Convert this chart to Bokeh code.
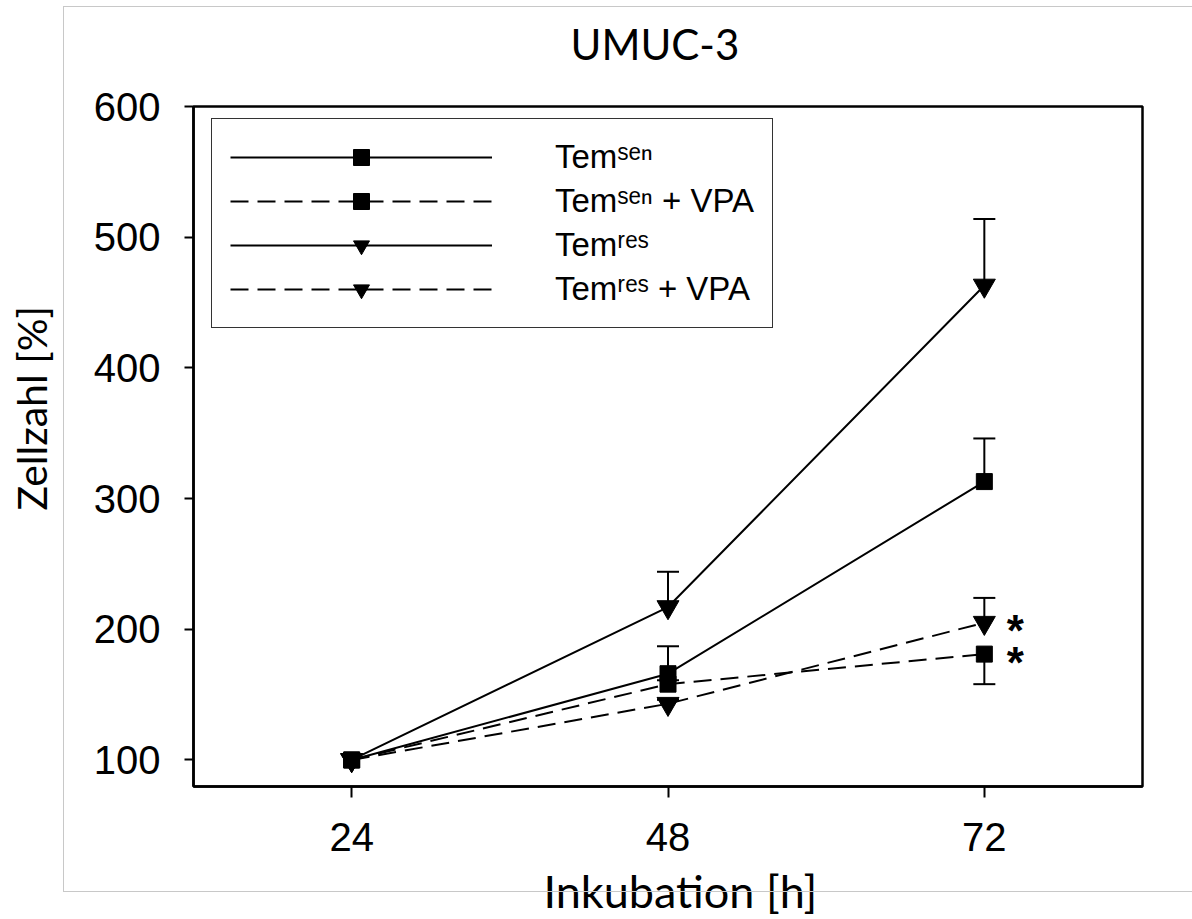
from bokeh.plotting import figure
from bokeh.models import (Range1d, FixedTicker, Whisker, TeeHead, ColumnDataSource,
                          Legend, LegendItem, Title, InlineStyleSheet)
from bokeh.embed import file_html
from bokeh.resources import INLINE
from bokeh.core.properties import value

# ---------------- data ----------------
hours = [24, 48, 72]
x_ticks = [24, 48, 72]
y_ticks = [100, 200, 300, 400, 500, 600]

tem_sen = [100, 166, 313]
tem_sen_err_up = [0, 21, 33]
tem_sen_err_down = [0, 0, 0]

tem_sen_vpa = [100, 158, 181]
tem_sen_vpa_err_up = [0, 3, 0]
tem_sen_vpa_err_down = [0, 0, 23]

tem_res = [100, 217, 463]
tem_res_err_up = [0, 27, 51]
tem_res_err_down = [0, 0, 0]

tem_res_vpa = [100, 143, 205]
tem_res_vpa_err_up = [0, 3, 19]
tem_res_vpa_err_down = [0, 0, 0]

labels = ["Tem\u02e2\u1d49\u207f", "Tem\u02e2\u1d49\u207f + VPA",
          "Tem\u02b3\u1d49\u02e2", "Tem\u02b3\u1d49\u02e2 + VPA"]
sig_hours = [72, 72]
sig_values = [tem_res_vpa[2], tem_sen_vpa[2]]
sig_text = ["*", "*"]

title_text = "UMUC-3"
x_title = "Inkubation [h]"
y_title = "Zellzahl [%]"

# ---------------- figure ----------------
FL, FT, FR, FB = 193, 106, 1142, 786   # frame edges in canvas px
W, H = 1192, 919

border_css = InlineStyleSheet(css="""
:host { position: relative; }
:host::after {
  content: ''; position: absolute; left: 63px; top: 6px;
  width: 1129px; height: 886px; box-sizing: border-box;
  border: 1px solid #c8c8c8; border-right: none; pointer-events: none;
}
""")

p = figure(width=W, height=H, output_backend="svg", toolbar_location=None,
           x_range=Range1d(12, 84), y_range=Range1d(79.7, 600),
           min_border_left=FL, min_border_right=W - FR,
           min_border_top=FT, min_border_bottom=H - FB,
           stylesheets=[border_css])
p.grid.visible = False
p.outline_line_color = "black"
p.outline_line_width = 2.5
p.background_fill_color = "white"
p.border_fill_color = "white"

for ax in (p.xaxis[0], p.yaxis[0]):
    ax.axis_line_width = 2.5
    ax.axis_line_color = "black"
    ax.major_tick_line_width = 2
    ax.major_tick_line_color = "black"
    ax.major_tick_in = 0
    ax.minor_tick_line_color = None
    ax.major_label_text_font = "Liberation Sans"
    ax.major_label_text_font_size = "40px"
    ax.major_label_text_color = "black"

p.xaxis[0].ticker = FixedTicker(ticks=x_ticks)
p.yaxis[0].ticker = FixedTicker(ticks=y_ticks)
p.xaxis[0].major_tick_out = 11
p.yaxis[0].major_tick_out = 9
p.xaxis[0].major_label_standoff = 25
p.yaxis[0].major_label_standoff = 24

series = [
    (tem_sen, tem_sen_err_up, tem_sen_err_down, "solid", "square", 16),
    (tem_sen_vpa, tem_sen_vpa_err_up, tem_sen_vpa_err_down, "18 9", "square", 16),
    (tem_res, tem_res_err_up, tem_res_err_down, "solid", "inverted_triangle", 22),
    (tem_res_vpa, tem_res_vpa_err_up, tem_res_vpa_err_down, "18 9", "inverted_triangle", 22),
]

items = []
for (vals, eu, ed, dash, marker, msize), lab in zip(series, labels):
    up_idx = [i for i in range(len(hours)) if eu[i] > 0]
    if up_idx:
        src = ColumnDataSource(dict(base=[hours[i] for i in up_idx],
                                    lower=[vals[i] for i in up_idx],
                                    upper=[vals[i] + eu[i] for i in up_idx]))
        p.add_layout(Whisker(base="base", lower="lower", upper="upper", source=src,
                             line_width=2, line_color="black", lower_head=None,
                             upper_head=TeeHead(size=22, line_width=2, line_color="black"),
                             level="underlay"))
    dn_idx = [i for i in range(len(hours)) if ed[i] > 0]
    if dn_idx:
        src = ColumnDataSource(dict(base=[hours[i] for i in dn_idx],
                                    upper=[vals[i] for i in dn_idx],
                                    lower=[vals[i] - ed[i] for i in dn_idx]))
        p.add_layout(Whisker(base="base", lower="lower", upper="upper", source=src,
                             line_width=2, line_color="black", upper_head=None,
                             lower_head=TeeHead(size=22, line_width=2, line_color="black"),
                             level="underlay"))
    lr = p.line(hours, vals, line_color="black", line_width=2, line_dash=dash)
    sr = p.scatter(hours, vals, marker=marker, size=msize, fill_color="black",
                   line_color="black")
    items.append(LegendItem(label=lab, renderers=[lr, sr]))

legend = Legend(items=items, location=(18, 458),
                glyph_width=262, glyph_height=40, spacing=4, padding=18,
                label_standoff=63, margin=0,
                label_text_font="Liberation Sans", label_text_font_size="33px",
                label_text_color="black", label_text_baseline="middle",
                border_line_color="#333333", border_line_width=1.5,
                border_line_alpha=1.0,
                background_fill_color="white", background_fill_alpha=1)
p.add_layout(legend)

# significance asterisks
p.text(x=sig_hours, y=sig_values, text=sig_text, x_offset=31, y_offset=8,
       text_align="center", text_baseline="alphabetic",
       text_font=value("Liberation Sans"), text_font_size="44px",
       text_font_style="bold", text_color="black")


def spacer(px):
    # empty panel used only to push a title further out from the frame
    return Title(text=" ", text_font_size="1px", standoff=px)


# titles (spacers sit between the frame/axis and the title text)
p.add_layout(spacer(19), "above")
p.add_layout(Title(text=title_text, align="left", offset=377, standoff=32,
                   text_font="Lato", text_font_size="42px",
                   text_font_style="normal", text_color="black"), "above")
p.add_layout(spacer(3), "below")
p.add_layout(Title(text=x_title, align="left", offset=350, standoff=4,
                   text_font="Lato", text_font_size="45px",
                   text_font_style="normal", text_color="black"), "below")
p.add_layout(spacer(28), "left")
p.add_layout(Title(text=y_title, align="left", offset=276, standoff=8,
                   text_font="Lato", text_font_size="41px",
                   text_font_style="normal", text_color="black"), "left")

open("out.html", "w").write(file_html(p, INLINE))
